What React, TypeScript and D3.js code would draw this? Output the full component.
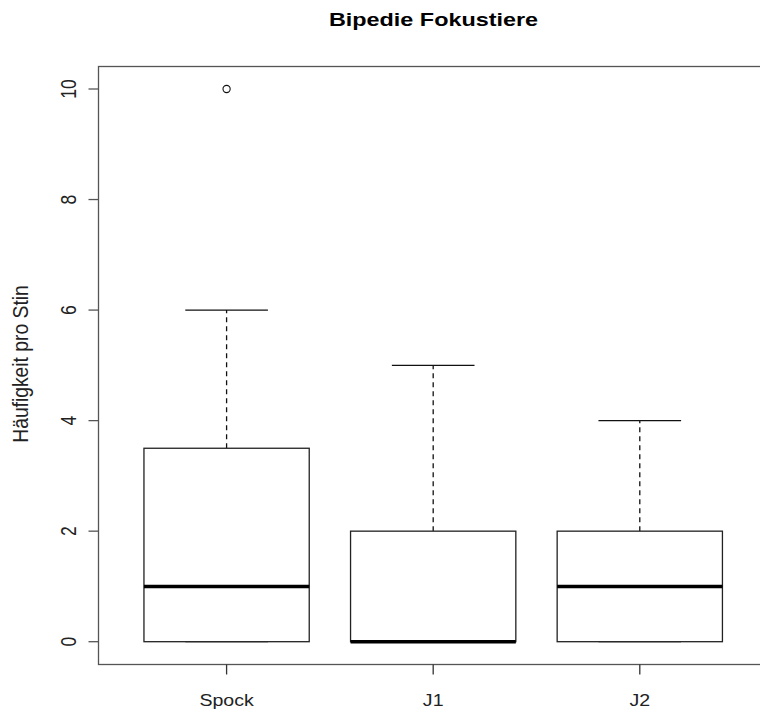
import React, { useEffect, useRef } from "react";
import * as d3 from "d3";

const groups = ["Spock", "J1", "J2"];
const lowerWhisker = [0, 0, 0];
const q1 = [0, 0, 0];
const medians = [1, 0, 1];
const q3 = [3.5, 2, 2];
const upperWhisker = [6, 5, 4];
const outliers = [[10], [], []];
const yTicks = [0, 2, 4, 6, 8, 10];

const width = 760;
const height = 715;

const App: React.FC = () => {
  const svgRef = useRef<SVGSVGElement | null>(null);

  useEffect(() => {
    if (!svgRef.current) return;
    const svg = d3.select(svgRef.current);
    svg.selectAll("*").remove();

    const font = "Liberation Sans, Arial, sans-serif";
    const left = 98.5;
    const top = 66.5;
    const bottom = 664.5;

    // R style: xlim 0.5..n+0.5 with 4% extension (right edge falls outside the picture)
    const x = d3.scaleLinear().domain([0.38, 3.62]).range([left, left + 3.24 * 206.6]);
    const y = d3.scaleLinear().domain([0, 10]).range([641.7, 89]);
    const boxW = 0.8;

    // plot frame
    svg
      .append("rect")
      .attr("x", left)
      .attr("y", top)
      .attr("width", x(3.62) - left)
      .attr("height", bottom - top)
      .attr("fill", "none")
      .attr("stroke", "#555")
      .attr("stroke-width", 1.3);

    // y axis
    yTicks.forEach((t) => {
      svg
        .append("line")
        .attr("x1", left - 10)
        .attr("x2", left)
        .attr("y1", y(t))
        .attr("y2", y(t))
        .attr("stroke", "#555")
        .attr("stroke-width", 1.3);
      svg
        .append("text")
        .attr("transform", `translate(76,${y(t)}) scale(1.22,1) rotate(-90)`)
        .attr("text-anchor", "middle")
        .style("font-family", font)
        .style("font-size", "17.5px")
        .attr("fill", "#222")
        .text(t);
    });

    // x axis ticks + labels
    groups.forEach((g, i) => {
      const cx = x(i + 1);
      svg
        .append("line")
        .attr("x1", cx)
        .attr("x2", cx)
        .attr("y1", bottom)
        .attr("y2", bottom + 10)
        .attr("stroke", "#333")
        .attr("stroke-width", 1.3);
      svg
        .append("text")
        .attr("transform", `translate(${cx},706.3) scale(1.2,1)`)
        .attr("text-anchor", "middle")
        .style("font-family", font)
        .style("font-size", "16.3px")
        .attr("fill", "#222")
        .text(g);
    });

    // boxes
    groups.forEach((g, i) => {
      const c = i + 1;
      const x0 = x(c - boxW / 2);
      const x1 = x(c + boxW / 2);
      const cx = x(c);
      const gBox = svg.append("g");

      // whiskers
      [
        [q3[i], upperWhisker[i]],
        [q1[i], lowerWhisker[i]],
      ].forEach(([a, b]) => {
        if (a === b) return;
        gBox
          .append("line")
          .attr("x1", cx)
          .attr("x2", cx)
          .attr("y1", y(a))
          .attr("y2", y(b))
          .attr("stroke", "#111")
          .attr("stroke-width", 1.3)
          .attr("stroke-dasharray", "5,4");
      });
      // staples
      [upperWhisker[i], lowerWhisker[i]].forEach((v) => {
        gBox
          .append("line")
          .attr("x1", x(c - boxW / 4))
          .attr("x2", x(c + boxW / 4))
          .attr("y1", y(v))
          .attr("y2", y(v))
          .attr("stroke", "#111")
          .attr("stroke-width", 1.3);
      });

      gBox
        .append("rect")
        .attr("x", x0)
        .attr("y", y(q3[i]))
        .attr("width", x1 - x0)
        .attr("height", y(q1[i]) - y(q3[i]))
        .attr("fill", "white")
        .attr("stroke", "#222")
        .attr("stroke-width", 1.3);

      gBox
        .append("line")
        .attr("x1", x0)
        .attr("x2", x1)
        .attr("y1", y(medians[i]))
        .attr("y2", y(medians[i]))
        .attr("stroke", "#000")
        .attr("stroke-width", 3.5);

      outliers[i].forEach((o) => {
        gBox
          .append("circle")
          .attr("cx", cx)
          .attr("cy", y(o))
          .attr("r", 3.6)
          .attr("fill", "none")
          .attr("stroke", "#111")
          .attr("stroke-width", 1.1);
      });
    });

    // title
    svg
      .append("text")
      .attr("transform", "translate(433.5,26) scale(1.3,1)")
      .attr("text-anchor", "middle")
      .style("font-family", font)
      .style("font-size", "18px")
      .style("font-weight", "bold")
      .attr("fill", "#000")
      .text("Bipedie Fokustiere");

    // y label
    svg
      .append("text")
      .attr("transform", "translate(28.3,364) scale(1.1,1) rotate(-90)")
      .attr("text-anchor", "middle")
      .style("font-family", font)
      .style("font-size", "19.3px")
      .attr("fill", "#222")
      .text("Häufigkeit pro Stin");
  }, []);

  return (
    <svg
      ref={svgRef}
      width={width}
      height={height}
      style={{ position: "absolute", left: 0, top: 0, background: "white" }}
    />
  );
};

export default App;
